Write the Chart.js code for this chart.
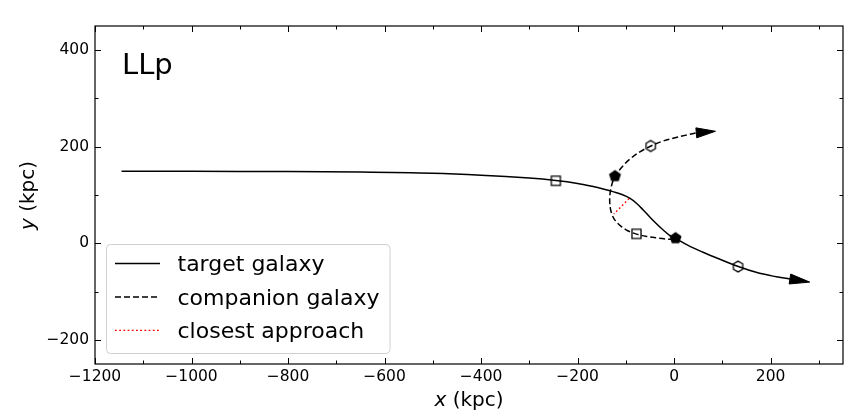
<!DOCTYPE html>
<html><head><meta charset="utf-8">
<script src="https://cdn.jsdelivr.net/npm/chart.js@4.4.0/dist/chart.umd.min.js"></script>
<style>html,body{margin:0;padding:0;background:#fff;}</style>
</head><body>
<canvas id="c" width="860" height="420" style="width:860px;height:420px;display:block"></canvas>
<script>
// ---- data ----
const targetX = [-1145, -1000, -800, -650, -500, -400, -300, -245, -200, -170, -145, -125, -108, -92, -78, -64, -50, -36, -22, -10, 3, 30, 60, 95, 133, 170, 205, 240];
const targetY = [149, 149, 148.5, 147.5, 145, 141, 135, 130, 124, 118, 112, 106.5, 101, 93.5, 83, 69, 54, 40, 27, 17, 10, -5, -18.5, -33, -48, -60, -68, -74];
const targetArrowTip = [281, -80.4];

const companionX = [0, -18, -36, -56, -78, -96, -111, -122, -128, -132, -133.5, -132, -128, -122, -108, -92, -70, -49, -25, 0, 25, 46];
const companionY = [8, 9, 11, 14, 19, 26, 36, 47, 58, 72, 90, 108, 125, 139, 158, 174, 190, 201, 211, 218, 224, 228.7];
const companionArrowTip = [85.7, 232];

const closestX = [-93.2, -124.8];
const closestY = [92.7, 60.4];

const squareX = [-245, -78];
const squareY = [129.5, 19.5];
const pentagonX = [3, -122.5];
const pentagonY = [10.5, 139];
const hexagonX = [132.5, -48.5];
const hexagonY = [-48.2, 201.5];

const xTicks = [-1200, -1000, -800, -600, -400, -200, 0, 200];
const xMinorTicks = [-1100, -900, -700, -500, -300, -100, 100, 300];
const yTicks = [-200, 0, 200, 400];
const yMinorTicks = [-100, 100, 300];
const legendLabels = ['target galaxy', 'companion galaxy', 'closest approach'];
const panelLabel = 'LLp';
const xTitleVar = 'x', yTitleVar = 'y', titleUnit = ' (kpc)';

// ---- helpers ----
const pts = (xs, ys) => xs.map((x, i) => ({x: x, y: ys[i]}));
function polyMarker(n, r, filled, rot) {
  const s = Math.ceil(2 * r + 4);
  const cv = document.createElement('canvas');
  cv.width = s; cv.height = s;
  const c = cv.getContext('2d');
  c.beginPath();
  for (let i = 0; i < n; i++) {
    const a = rot + i * 2 * Math.PI / n;
    const px = s / 2 + r * Math.cos(a), py = s / 2 + r * Math.sin(a);
    if (i === 0) c.moveTo(px, py); else c.lineTo(px, py);
  }
  c.closePath();
  if (filled) { c.fillStyle = '#000'; c.fill(); }
  c.lineWidth = 1.3; c.strokeStyle = '#000'; c.stroke();
  return cv;
}
const squareImg = polyMarker(4, 6.4, false, Math.PI / 4);
const pentagonImg = polyMarker(5, 5.5, true, -Math.PI / 2);
const hexagonImg = polyMarker(6, 5.4, false, -Math.PI / 2);

const FONT = "'DejaVu Sans', sans-serif";
const fmt = v => (v < 0 ? '\u2212' + Math.abs(v) : String(v));

const decorPlugin = {
  id: 'decor',
  afterDatasetsDraw(chart) {
    const ctx = chart.ctx, xs = chart.scales.x, ys = chart.scales.y;
    const arrows = [
      [targetX[targetX.length - 1], targetY[targetY.length - 1], targetArrowTip],
      [companionX[companionX.length - 1], companionY[companionY.length - 1], companionArrowTip]
    ];
    ctx.save();
    arrows.forEach(([bx, by, tip]) => {
      const x0 = xs.getPixelForValue(bx), y0 = ys.getPixelForValue(by);
      const x1 = xs.getPixelForValue(tip[0]), y1 = ys.getPixelForValue(tip[1]);
      const dx = x1 - x0, dy = y1 - y0, L = Math.hypot(dx, dy);
      const nx = -dy / L, ny = dx / L, hw = 5;
      ctx.beginPath();
      ctx.moveTo(x1, y1);
      ctx.lineTo(x0 + nx * hw, y0 + ny * hw);
      ctx.lineTo(x0 - nx * hw, y0 - ny * hw);
      ctx.closePath();
      ctx.fillStyle = '#000'; ctx.fill();
      ctx.lineWidth = 1; ctx.strokeStyle = '#000'; ctx.stroke();
    });
    ctx.restore();
  },
  afterDraw(chart) {
    const ctx = chart.ctx, a = chart.chartArea, xs = chart.scales.x, ys = chart.scales.y;
    ctx.save();
    ctx.strokeStyle = '#000'; ctx.lineWidth = 1.2;
    ctx.strokeRect(a.left, a.top, a.right - a.left, a.bottom - a.top);
    ctx.lineWidth = 1;
    ctx.beginPath();
    const tx = (vals, len) => vals.forEach(v => {
      const p = Math.round(xs.getPixelForValue(v)) + 0.5;
      ctx.moveTo(p, a.bottom); ctx.lineTo(p, a.bottom - len);
      ctx.moveTo(p, a.top); ctx.lineTo(p, a.top + len);
    });
    const ty = (vals, len) => vals.forEach(v => {
      const p = Math.round(ys.getPixelForValue(v)) + 0.5;
      ctx.moveTo(a.left, p); ctx.lineTo(a.left + len, p);
      ctx.moveTo(a.right, p); ctx.lineTo(a.right - len, p);
    });
    tx(xTicks, 6); tx(xMinorTicks, 3.5); ty(yTicks, 6); ty(yMinorTicks, 3.5);
    ctx.stroke();

    ctx.fillStyle = '#000';
    ctx.font = '29px ' + FONT;
    ctx.textAlign = 'left'; ctx.textBaseline = 'alphabetic';
    ctx.fillText(panelLabel, 122, 73.5);

    const title = (v, cx, cy, rot) => {
      ctx.save();
      ctx.translate(cx, cy); ctx.rotate(rot);
      ctx.font = 'italic 20px ' + FONT;
      const w1 = ctx.measureText(v).width;
      ctx.font = '20px ' + FONT;
      const w2 = ctx.measureText(titleUnit).width;
      let x = -(w1 + w2) / 2;
      ctx.textAlign = 'left'; ctx.textBaseline = 'alphabetic';
      ctx.font = 'italic 20px ' + FONT; ctx.fillText(v, x, 0);
      ctx.font = '20px ' + FONT; ctx.fillText(titleUnit, x + w1, 0);
      ctx.restore();
    };
    title(xTitleVar, 469, 405.5, 0);
    title(yTitleVar, 34, 195.5, -Math.PI / 2);

    const lx = 106.5, ly = 244.5, lw = 283.5, lh = 109, r = 4;
    ctx.beginPath();
    ctx.moveTo(lx + r, ly);
    ctx.arcTo(lx + lw, ly, lx + lw, ly + lh, r);
    ctx.arcTo(lx + lw, ly + lh, lx, ly + lh, r);
    ctx.arcTo(lx, ly + lh, lx, ly, r);
    ctx.arcTo(lx, ly, lx + lw, ly, r);
    ctx.closePath();
    ctx.fillStyle = 'rgba(255,255,255,0.8)'; ctx.fill();
    ctx.strokeStyle = '#d0d0d0'; ctx.lineWidth = 1; ctx.stroke();
    const ds = chart.data.datasets;
    const legendSets = [ds[3], ds[4], ds[5]];
    legendSets.forEach((d, i) => {
      const yy = 263.5 + i * 33.4;
      ctx.beginPath();
      ctx.setLineDash(d.borderDash || []);
      ctx.strokeStyle = d.borderColor; ctx.lineWidth = d.borderWidth;
      ctx.moveTo(115, yy); ctx.lineTo(160, yy); ctx.stroke();
      ctx.setLineDash([]);
      ctx.fillStyle = '#000'; ctx.font = '22px ' + FONT;
      ctx.textAlign = 'left'; ctx.textBaseline = 'alphabetic';
      ctx.fillText(legendLabels[i], 177.5, yy + 7.6);
    });
    ctx.restore();
  }
};

new Chart(document.getElementById('c'), {
  type: 'scatter',
  data: {
    datasets: [
      {label: 'squares', data: pts(squareX, squareY), pointStyle: squareImg, showLine: false},
      {label: 'pentagons', data: pts(pentagonX, pentagonY), pointStyle: pentagonImg, showLine: false},
      {label: 'hexagons', data: pts(hexagonX, hexagonY), pointStyle: hexagonImg, showLine: false},
      {label: legendLabels[0], data: pts(targetX, targetY), showLine: true, borderColor: '#000', borderWidth: 1.5, pointRadius: 0, tension: 0.35, fill: false},
      {label: legendLabels[1], data: pts(companionX, companionY), showLine: true, borderColor: '#000', borderWidth: 1.5, borderDash: [6, 3], pointRadius: 0, tension: 0.35, fill: false},
      {label: legendLabels[2], data: pts(closestX, closestY), showLine: true, borderColor: '#ff0000', borderWidth: 1.3, borderDash: [1.8, 2.4], pointRadius: 0, tension: 0, fill: false}
    ]
  },
  options: {
    responsive: false,
    animation: false,
    devicePixelRatio: 1,
    layout: {padding: {top: 26, right: 17, left: 0, bottom: 0}},
    plugins: {legend: {display: false}, tooltip: {enabled: false}},
    elements: {point: {radius: 5, hoverRadius: 5}},
    scales: {
      x: {
        type: 'linear', min: -1200, max: 350,
        afterBuildTicks: s => { s.ticks = xTicks.map(v => ({value: v})); },
        afterFit: s => { s.height = 56; },
        grid: {display: false, drawTicks: false},
        border: {display: false},
        ticks: {callback: v => fmt(v), color: '#000', font: {family: FONT, size: 15.5}, padding: 4, maxRotation: 0, autoSkip: false}
      },
      y: {
        type: 'linear', min: -250, max: 450,
        afterBuildTicks: s => { s.ticks = yTicks.map(v => ({value: v})); },
        afterFit: s => { s.width = 95; },
        grid: {display: false, drawTicks: false},
        border: {display: false},
        ticks: {callback: v => fmt(v), color: '#000', font: {family: FONT, size: 15.5}, padding: 6, autoSkip: false}
      }
    }
  },
  plugins: [decorPlugin]
});
</script>
</body></html>
